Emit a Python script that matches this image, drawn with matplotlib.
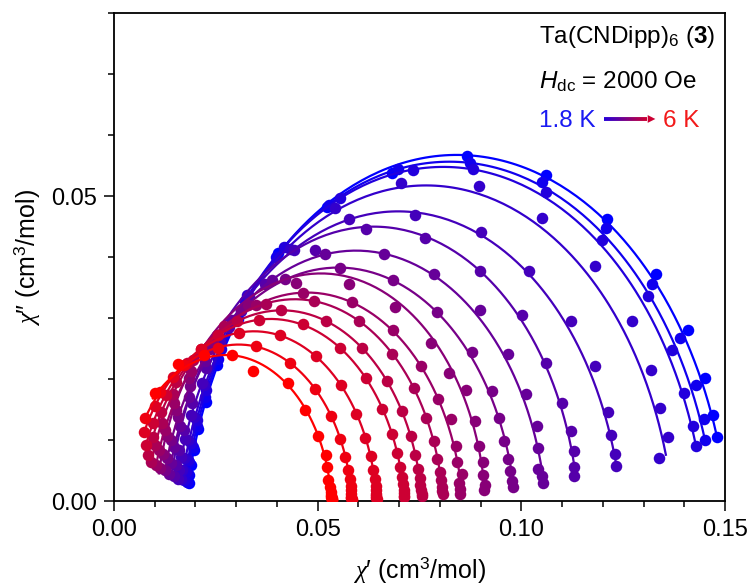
import numpy as np
import matplotlib
matplotlib.use("Agg")
import matplotlib.pyplot as plt
from matplotlib.collections import LineCollection

plt.rcParams['font.family'] = ['Liberation Sans', 'DejaVu Sans']
plt.rcParams['mathtext.fontset'] = 'custom'
plt.rcParams['mathtext.rm'] = 'Liberation Sans'
plt.rcParams['mathtext.it'] = 'Liberation Serif:italic'
plt.rcParams['mathtext.sf'] = 'Liberation Sans:italic'
plt.rcParams['mathtext.bf'] = 'Liberation Sans:bold'

# Temperatures (K)
temps = [1.8, 2.0, 2.2, 2.4, 2.6, 2.8, 3.0, 3.2, 3.4, 3.6, 3.8, 4.0, 4.5, 5.0, 5.5, 6.0]

# Generalized Debye fit parameters for each temperature
chi_s = [.0177, .0172, .0167, .0160, .0150, .0135, .0128, .0116, .0104, .0092, .0080, .0068, .0056, .0042, .0028, .0015]
chi_t = [.1506, .1475, .1450, .1372, .1245, .1140, .1060, .0985, .0912, .0856, .0808, .0756, .0713, .0645, .0584, .0534]
alpha = [.10, .10, .10, .10, .09, .07, .08, .08, .05, .07, .06, .06, .06, .05, .05, .05]
tau = [.0103, .0095, .0086, .0077, .0065, .0050, .0042, .0034, .0032, .0024, .0020, .0016, .0012, .00085, .00062, .00042]
f_min, f_max = 1.0, 1000.0  # Hz, measured frequency window

# Measured chi' and chi'' (cm^3/mol), low to high frequency
re_18 = [0.1480, 0.1471, 0.1451, 0.1410, 0.1331, 0.1211, 0.1061, 0.0867, 0.0682, 0.0522, 0.0403, 0.0304, 0.0254, 0.0225, 0.0207, 0.0196, 0.0189, 0.0185, 0.0183]
im_18 = [0.0106, 0.0142, 0.0202, 0.0281, 0.0373, 0.0463, 0.0535, 0.0565, 0.0538, 0.0482, 0.0407, 0.0299, 0.0223, 0.0163, 0.0118, 0.0084, 0.0060, 0.0043, 0.0030]
re_20 = [0.1451, 0.1449, 0.1430, 0.1390, 0.1320, 0.1209, 0.1050, 0.0874, 0.0698, 0.0527, 0.0397, 0.0311, 0.0256, 0.0224, 0.0204, 0.0193, 0.0185, 0.0181, 0.0178]
im_20 = [0.0101, 0.0135, 0.0191, 0.0267, 0.0356, 0.0448, 0.0524, 0.0554, 0.0544, 0.0486, 0.0400, 0.0312, 0.0234, 0.0171, 0.0124, 0.0089, 0.0064, 0.0045, 0.0032]
re_22 = [0.1430, 0.1421, 0.1400, 0.1371, 0.1312, 0.1199, 0.1061, 0.0881, 0.0733, 0.0556, 0.0418, 0.0322, 0.0262, 0.0225, 0.0203, 0.0190, 0.0182, 0.0177, 0.0173]
im_22 = [0.0091, 0.0124, 0.0178, 0.0248, 0.0337, 0.0428, 0.0506, 0.0544, 0.0543, 0.0497, 0.0417, 0.0329, 0.0249, 0.0183, 0.0133, 0.0096, 0.0068, 0.0049, 0.0035]
re_24 = [0.1339, 0.1361, 0.1341, 0.1318, 0.1271, 0.1181, 0.1050, 0.0897, 0.0704, 0.0543, 0.0432, 0.0326, 0.0261, 0.0220, 0.0196, 0.0182, 0.0173, 0.0168, 0.0164]
im_24 = [0.0071, 0.0106, 0.0153, 0.0215, 0.0295, 0.0386, 0.0464, 0.0517, 0.0521, 0.0480, 0.0413, 0.0338, 0.0258, 0.0191, 0.0139, 0.0100, 0.0072, 0.0051, 0.0036]
re_26 = [0.1232, 0.1230, 0.1220, 0.1212, 0.1180, 0.1121, 0.1020, 0.0900, 0.0739, 0.0577, 0.0441, 0.0332, 0.0260, 0.0216, 0.0190, 0.0175, 0.0165, 0.0160, 0.0156]
im_26 = [0.0058, 0.0078, 0.0109, 0.0146, 0.0222, 0.0295, 0.0377, 0.0442, 0.0469, 0.0462, 0.0412, 0.0337, 0.0261, 0.0194, 0.0142, 0.0102, 0.0073, 0.0052, 0.0037]
re_28 = [0.1130, 0.1130, 0.1130, 0.1121, 0.1101, 0.1061, 0.1001, 0.0899, 0.0764, 0.0619, 0.0494, 0.0371, 0.0282, 0.0226, 0.0191, 0.0171, 0.0159, 0.0152, 0.0148]
im_28 = [0.0041, 0.0057, 0.0082, 0.0116, 0.0162, 0.0227, 0.0306, 0.0378, 0.0431, 0.0446, 0.0412, 0.0356, 0.0285, 0.0218, 0.0161, 0.0117, 0.0084, 0.0060, 0.0042]
re_30 = [0.1052, 0.1050, 0.1040, 0.1040, 0.1039, 0.1012, 0.0968, 0.0899, 0.0786, 0.0662, 0.0517, 0.0387, 0.0289, 0.0224, 0.0185, 0.0162, 0.0148, 0.0140, 0.0136]
im_30 = [0.0031, 0.0041, 0.0054, 0.0087, 0.0123, 0.0176, 0.0241, 0.0314, 0.0373, 0.0406, 0.0405, 0.0363, 0.0298, 0.0230, 0.0171, 0.0124, 0.0089, 0.0063, 0.0045]
re_32 = [0.0980, 0.0977, 0.0972, 0.0968, 0.0958, 0.0944, 0.0929, 0.0880, 0.0793, 0.0685, 0.0554, 0.0421, 0.0312, 0.0235, 0.0187, 0.0158, 0.0141, 0.0131, 0.0125]
im_32 = [0.0023, 0.0034, 0.0050, 0.0070, 0.0099, 0.0136, 0.0181, 0.0245, 0.0310, 0.0362, 0.0383, 0.0364, 0.0313, 0.0249, 0.0189, 0.0139, 0.0100, 0.0071, 0.0051]
re_34 = [0.0909, 0.0911, 0.0905, 0.0905, 0.0895, 0.0886, 0.0863, 0.0822, 0.0777, 0.0691, 0.0576, 0.0447, 0.0330, 0.0243, 0.0185, 0.0151, 0.0131, 0.0120, 0.0114]
im_34 = [0.0019, 0.0027, 0.0043, 0.0064, 0.0091, 0.0131, 0.0183, 0.0211, 0.0260, 0.0318, 0.0356, 0.0357, 0.0321, 0.0263, 0.0203, 0.0150, 0.0108, 0.0077, 0.0055]
re_36 = [0.0850, 0.0849, 0.0847, 0.0854, 0.0843, 0.0839, 0.0827, 0.0796, 0.0753, 0.0684, 0.0585, 0.0465, 0.0348, 0.0253, 0.0188, 0.0148, 0.0124, 0.0111, 0.0103]
im_36 = [0.0013, 0.0020, 0.0031, 0.0045, 0.0064, 0.0091, 0.0135, 0.0168, 0.0222, 0.0280, 0.0326, 0.0342, 0.0321, 0.0272, 0.0214, 0.0161, 0.0117, 0.0084, 0.0059]
re_38 = [0.0807, 0.0806, 0.0805, 0.0803, 0.0800, 0.0794, 0.0785, 0.0767, 0.0736, 0.0683, 0.0601, 0.0492, 0.0374, 0.0269, 0.0193, 0.0145, 0.0117, 0.0101, 0.0092]
im_38 = [0.0012, 0.0017, 0.0024, 0.0035, 0.0049, 0.0070, 0.0099, 0.0137, 0.0186, 0.0242, 0.0296, 0.0328, 0.0324, 0.0287, 0.0232, 0.0176, 0.0129, 0.0092, 0.0065]
re_40 = [0.0755, 0.0755, 0.0754, 0.0752, 0.0750, 0.0747, 0.0740, 0.0728, 0.0707, 0.0670, 0.0609, 0.0520, 0.0410, 0.0301, 0.0213, 0.0153, 0.0116, 0.0095, 0.0084]
im_40 = [0.0009, 0.0013, 0.0019, 0.0027, 0.0038, 0.0054, 0.0076, 0.0107, 0.0148, 0.0198, 0.0251, 0.0296, 0.0313, 0.0295, 0.0250, 0.0196, 0.0146, 0.0106, 0.0076]
re_45 = [0.0712, 0.0712, 0.0711, 0.0711, 0.0709, 0.0707, 0.0703, 0.0695, 0.0682, 0.0659, 0.0618, 0.0554, 0.0463, 0.0356, 0.0255, 0.0178, 0.0127, 0.0096, 0.0079]
im_45 = [0.0007, 0.0009, 0.0014, 0.0019, 0.0028, 0.0040, 0.0056, 0.0079, 0.0111, 0.0152, 0.0202, 0.0252, 0.0290, 0.0298, 0.0273, 0.0226, 0.0175, 0.0129, 0.0093]
re_50 = [0.0645, 0.0644, 0.0644, 0.0644, 0.0643, 0.0642, 0.0640, 0.0636, 0.0630, 0.0617, 0.0595, 0.0557, 0.0495, 0.0407, 0.0306, 0.0214, 0.0144, 0.0100, 0.0074]
im_50 = [0.0004, 0.0006, 0.0009, 0.0012, 0.0018, 0.0026, 0.0037, 0.0052, 0.0074, 0.0104, 0.0144, 0.0191, 0.0238, 0.0272, 0.0276, 0.0249, 0.0204, 0.0156, 0.0114]
re_55 = [0.0584, 0.0584, 0.0583, 0.0583, 0.0583, 0.0582, 0.0581, 0.0579, 0.0575, 0.0568, 0.0556, 0.0533, 0.0494, 0.0432, 0.0349, 0.0256, 0.0173, 0.0114, 0.0076]
im_55 = [0.0003, 0.0004, 0.0006, 0.0008, 0.0012, 0.0018, 0.0025, 0.0036, 0.0051, 0.0073, 0.0102, 0.0140, 0.0184, 0.0227, 0.0254, 0.0252, 0.0223, 0.0180, 0.0136]
re_60 = [0.0534, 0.0534, 0.0534, 0.0534, 0.0533, 0.0533, 0.0532, 0.0531, 0.0526, 0.0522, 0.0520, 0.0502, 0.0469, 0.0428, 0.0342, 0.0290, 0.0221, 0.0158, 0.0101]
im_60 = [0.0002, 0.0003, 0.0004, 0.0005, 0.0008, 0.0011, 0.0016, 0.0023, 0.0035, 0.0057, 0.0076, 0.0107, 0.0150, 0.0194, 0.0214, 0.0240, 0.0240, 0.0225, 0.0177]

chi_re = [re_18, re_20, re_22, re_24, re_26, re_28, re_30, re_32, re_34, re_36, re_38, re_40, re_45, re_50, re_55, re_60]
chi_im = [im_18, im_20, im_22, im_24, im_26, im_28, im_30, im_32, im_34, im_36, im_38, im_40, im_45, im_50, im_55, im_60]


def gen_debye(f, cs, ct, a, t):
    z = cs + (ct - cs) / (1 + (1j * 2 * np.pi * f * t) ** (1 - a))
    return z.real, -z.imag


fig = plt.figure(figsize=(7.52, 5.87), dpi=100)
ax = fig.add_axes([0.1516, 0.1457, 0.8125, 0.8322])

n = len(temps)
f_fit = np.logspace(np.log10(f_min), np.log10(f_max), 300)
for i in range(n):
    c = (i / (n - 1), 0, 1 - i / (n - 1))
    fx, fy = gen_debye(f_fit, chi_s[i], chi_t[i], alpha[i], tau[i])
    ax.plot(fx, fy, color=c, lw=1.6, zorder=2 + i)
    ax.plot(chi_re[i], chi_im[i], 'o', color=c, ms=8.3, mec='none', zorder=2 + i)

ax.set_xlim(0, 0.15)
ax.set_ylim(0, 0.08)
ax.set_xticks([0, 0.05, 0.10, 0.15])
ax.set_xticklabels(['0.00', '0.05', '0.10', '0.15'])
ax.set_yticks([0, 0.05])
ax.set_yticklabels(['0.00', '0.05'])
ax.set_xticks(np.arange(0, 0.151, 0.01), minor=True)
ax.set_yticks(np.arange(0, 0.081, 0.01), minor=True)
ax.tick_params(which='major', length=7.5, width=1.1, labelsize=17, direction='out', pad=5)
ax.tick_params(which='minor', length=4, width=1.1, direction='out')
for s in ax.spines.values():
    s.set_linewidth(1.3)
ax.set_xlabel("$\\chi$\u2032 (cm$^3$/mol)", fontsize=18, labelpad=10)
ax.set_ylabel("$\\chi$\u2033 (cm$^3$/mol)", fontsize=18, labelpad=6)

ax.text(0.696, 0.951, r"Ta(CNDipp)$_6$ ($\mathbf{3}$)", transform=ax.transAxes, fontsize=17.5, va='center', ha='left')
ax.text(0.696, 0.859, r"$\mathsf{H}_{\mathrm{dc}}$ = 2000 Oe", transform=ax.transAxes, fontsize=17.5, va='center', ha='left')
ax.text(0.696, 0.779, "1.8 K", transform=ax.transAxes, fontsize=17.5, va='center', ha='left', color=(0.1, 0.1, 0.95))
ax.text(0.898, 0.779, "6 K", transform=ax.transAxes, fontsize=17.5, va='center', ha='left', color=(0.95, 0.1, 0.1))

# gradient arrow from the blue label to the red label
ax0, ax1, ay = 0.802, 0.872, 0.783
xs = np.linspace(ax0, ax1, 60)
segs = [[(xs[k], ay), (xs[k + 1], ay)] for k in range(len(xs) - 1)]
cols = [(t, 0, 1 - t) for t in np.linspace(0.15, 0.8, len(segs))]
ax.add_collection(LineCollection(segs, colors=cols, linewidths=2.8, transform=ax.transAxes, zorder=30))
ax.annotate("", xy=(0.886, ay), xytext=(ax1 - 0.002, ay), xycoords='axes fraction',
            arrowprops=dict(arrowstyle='-|>,head_length=0.55,head_width=0.28', color=(0.8, 0, 0.2),
                            lw=0, shrinkA=0, shrinkB=0), zorder=31)

fig.savefig("out.png", dpi=100)
